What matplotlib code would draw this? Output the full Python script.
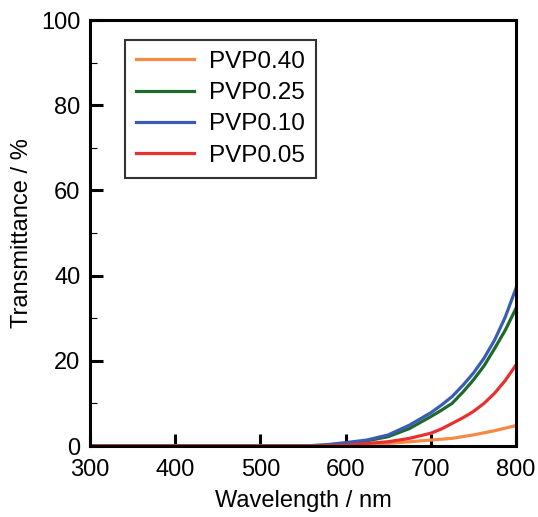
import matplotlib
matplotlib.use("Agg")
import matplotlib.pyplot as plt
from matplotlib.ticker import MultipleLocator

plt.rcParams["font.family"] = ["Liberation Sans", "DejaVu Sans"]

wavelength = [300, 500, 550, 575, 600, 625, 650, 675, 700, 712.5, 725, 737.5,
              750, 762.5, 775, 787.5, 800]
pvp040 = [0, 0, 0, 0.05, 0.15, 0.4, 0.6, 1.0, 1.4, 1.6, 1.8, 2.2,
          2.6, 3.1, 3.6, 4.2, 4.8]
pvp025 = [0, 0, 0, 0.2, 0.6, 1.2, 2.2, 4.1, 6.9, 8.4, 10.0, 12.6,
          15.5, 18.8, 22.9, 27.2, 32.3]
pvp010 = [0, 0, 0, 0.25, 0.8, 1.4, 2.6, 4.9, 7.8, 9.6, 11.6, 14.2,
          17.1, 20.6, 24.9, 30.3, 37.0]
pvp005 = [0, 0, 0, 0.05, 0.2, 0.6, 1.0, 1.8, 3.0, 4.0, 5.3, 6.6,
          8.1, 10.0, 12.4, 15.4, 19.0]

series = [
    ("PVP0.40", pvp040, "#f48a45"),
    ("PVP0.25", pvp025, "#1e6a2c"),
    ("PVP0.10", pvp010, "#3a5cb4"),
    ("PVP0.05", pvp005, "#e8302e"),
]

fig = plt.figure(figsize=(5.38, 5.17), dpi=100)
ax = fig.add_axes([0.1673, 0.1373, 0.7917, 0.824])

for label, ys, c in series:
    ax.plot(wavelength, ys, color=c, lw=2.3, label=label)

ax.set_xlim(300, 800)
ax.set_ylim(0, 100)
ax.xaxis.set_major_locator(MultipleLocator(100))
ax.yaxis.set_major_locator(MultipleLocator(20))
ax.yaxis.set_minor_locator(MultipleLocator(10))
ax.tick_params(axis="both", which="major", direction="in", length=9, width=2.2,
               labelsize=17)
ax.tick_params(axis="x", which="major", pad=9)
ax.tick_params(axis="y", which="major", pad=7)
ax.tick_params(axis="y", which="minor", direction="in", length=5, width=0.8)
for s in ax.spines.values():
    s.set_linewidth(2.2)

ax.set_xlabel("Wavelength / nm", fontsize=17, labelpad=7)
ax.set_ylabel("Transmittance / %", fontsize=17, labelpad=6)

leg = ax.legend(loc="upper left", bbox_to_anchor=(0.082, 0.953), fontsize=17.5,
                frameon=True, fancybox=False, handlelength=2.4,
                borderpad=0.45, labelspacing=0.38, handletextpad=0.6,
                borderaxespad=0)
leg.get_frame().set_edgecolor("black")
leg.get_frame().set_linewidth(1.5)

fig.savefig("out.png", dpi=100)
